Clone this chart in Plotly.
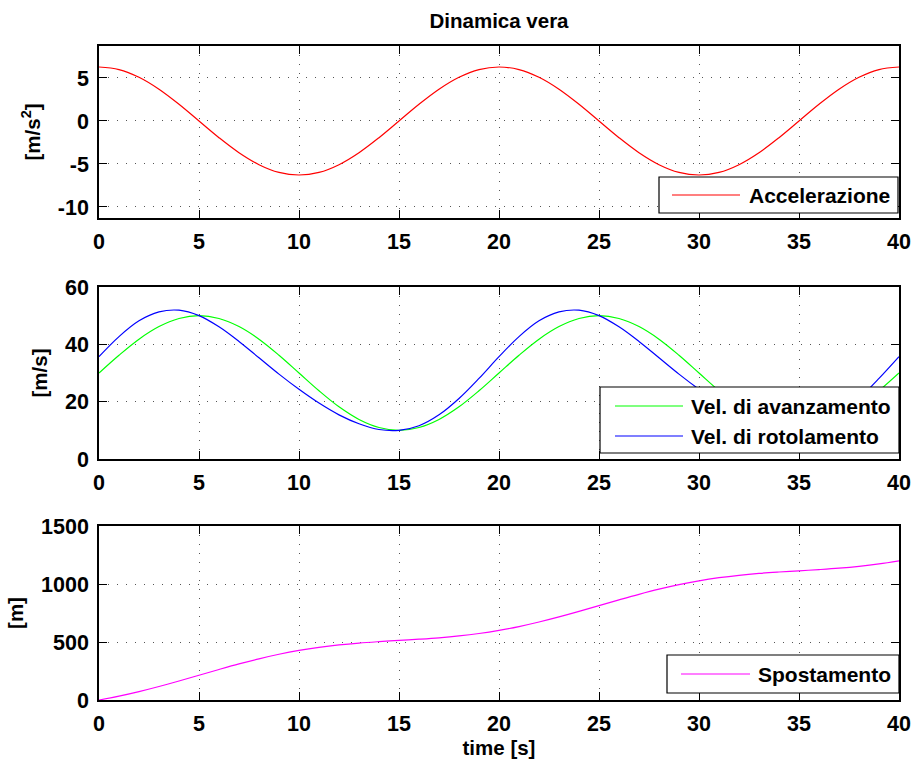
import plotly.graph_objects as go
from plotly.subplots import make_subplots

# time axis [s]
time_s = list(range(0, 41))

# acceleration [m/s^2]
accelerazione = [6.28, 5.98, 5.08, 3.69, 1.94, 0.0, -1.94, -3.69, -5.08, -5.98,
                 -6.28, -5.98, -5.08, -3.69, -1.94, 0.0, 1.94, 3.69, 5.08, 5.98,
                 6.28, 5.98, 5.08, 3.69, 1.94, 0.0, -1.94, -3.69, -5.08, -5.98,
                 -6.28, -5.98, -5.08, -3.69, -1.94, 0.0, 1.94, 3.69, 5.08, 5.98,
                 6.28]

# forward and rolling speed [m/s]
vel_avanzamento = [30.0, 36.2, 41.8, 46.2, 49.0, 50.0, 49.0, 46.2, 41.8, 36.2,
                   30.0, 23.8, 18.2, 13.8, 11.0, 10.0, 11.0, 13.8, 18.2, 23.8,
                   30.0, 36.2, 41.8, 46.2, 49.0, 50.0, 49.0, 46.2, 41.8, 36.2,
                   30.0, 23.8, 18.2, 13.8, 11.0, 10.0, 11.0, 13.8, 18.2, 23.8,
                   30.0]
vel_rotolamento = [35.7, 42.7, 48.2, 51.3, 51.9, 50.0, 46.1, 41.0, 35.3, 29.6,
                   24.3, 19.5, 15.4, 12.3, 10.3, 10.0, 11.6, 15.4, 21.1, 28.1,
                   35.7, 42.7, 48.2, 51.3, 51.9, 50.0, 46.1, 41.0, 35.3, 29.6,
                   24.3, 19.5, 15.4, 12.3, 10.3, 10.0, 11.6, 15.4, 21.1, 28.1,
                   35.7]

# displacement [m]
spostamento = [0.0, 33.1, 72.2, 116.2, 164.0, 213.7, 263.3, 311.1, 355.2, 394.2,
               427.3, 454.2, 475.2, 491.1, 503.3, 513.7, 524.0, 536.2, 552.2, 573.1,
               600.0, 633.1, 672.2, 716.2, 764.0, 813.7, 863.3, 911.1, 955.2, 994.2,
               1027.3, 1054.2, 1075.2, 1091.1, 1103.3, 1113.7, 1124.0, 1136.2, 1152.2, 1173.1,
               1200.0]

x_ticks = [0, 5, 10, 15, 20, 25, 30, 35, 40]
y1_ticks = [-10, -5, 0, 5]
y2_ticks = [0, 20, 40, 60]
y3_ticks = [0, 500, 1000, 1500]

W, H = 917, 761
ML, MR, MT, MB = 99, 18, 46, 61
PW, PH = W - ML - MR, H - MT - MB

FONT = "Liberation Sans, Arial, Helvetica, sans-serif"


def px_x(p):
    return (p - ML) / PW


def px_y(p):
    return 1 - (p - MT) / PH


fig = make_subplots(rows=3, cols=1)

fig.add_trace(go.Scatter(x=time_s, y=accelerazione, mode="lines", name="Accelerazione",
                         line=dict(color="#ff0000", width=1.2, shape="spline"),
                         showlegend=False), row=1, col=1)
fig.add_trace(go.Scatter(x=time_s, y=vel_avanzamento, mode="lines", name="Vel. di avanzamento",
                         line=dict(color="#00ff00", width=1.2, shape="spline"),
                         showlegend=False), row=2, col=1)
fig.add_trace(go.Scatter(x=time_s, y=vel_rotolamento, mode="lines", name="Vel. di rotolamento",
                         line=dict(color="#0000ff", width=1.2, shape="spline"),
                         showlegend=False), row=2, col=1)
fig.add_trace(go.Scatter(x=time_s, y=spostamento, mode="lines", name="Spostamento",
                         line=dict(color="#ff00ff", width=1.2, shape="spline"),
                         showlegend=False), row=3, col=1)

axis_common = dict(
    showline=True, linecolor="black", linewidth=1.5, mirror="ticks",
    ticks="inside", ticklen=8, tickwidth=1, tickcolor="black",
    showgrid=True, gridcolor="#555555", gridwidth=1, griddash="1px,8px",
    zeroline=False, automargin=False,
    tickfont=dict(family=FONT, size=21.5, color="black", weight="bold"),
)

domains = [
    (px_y(218), px_y(MT)),
    (px_y(459), px_y(287)),
    (px_y(H - MB), px_y(526)),
]

y_ranges = [[-11.28, 8.72], [0, 60], [0, 1500]]
y_tick_sets = [y1_ticks, y2_ticks, y3_ticks]
y_titles = ["[m/s<sup>2</sup>]", "[m/s]", "[m]"]

for i in range(3):
    sfx = "" if i == 0 else str(i + 1)
    fig.layout["xaxis" + sfx].update(
        range=[0, 40], tickvals=x_ticks, ticktext=[str(v) for v in x_ticks],
        ticklabelstandoff=3, **axis_common)
    fig.layout["yaxis" + sfx].update(
        domain=list(domains[i]), range=y_ranges[i], tickvals=y_tick_sets[i],
        ticktext=[str(v) for v in y_tick_sets[i]], ticklabelstandoff=4,
        title=dict(text=y_titles[i], standoff=12,
                   font=dict(family=FONT, size=20.5, color="black", weight="bold")),
        **axis_common)

fig.layout.xaxis3.title = dict(text="time [s]", standoff=4,
                               font=dict(family=FONT, size=20.5, color="black", weight="bold"))

# legend boxes: (box, entries[(label, color, y)], line x-span, text x)
legends = [
    ((659, 177, 898, 213), [("Accelerazione", "#ff0000", 195)], (672, 740), 747),
    ((600, 387, 899, 453), [("Vel. di avanzamento", "#00ff00", 406),
                            ("Vel. di rotolamento", "#0000ff", 436)], (615, 683), 689),
    ((667, 655, 899, 693), [("Spostamento", "#ff00ff", 674)], (681, 750), 756),
]

shapes = []
annotations = []
for (x0, y0, x1, y1), entries, (lx0, lx1), tx in legends:
    shapes.append(dict(type="rect", xref="paper", yref="paper",
                       x0=px_x(x0), x1=px_x(x1), y0=px_y(y1), y1=px_y(y0),
                       line=dict(color="black", width=1.2), fillcolor="white", layer="above"))
    for label, color, ly in entries:
        shapes.append(dict(type="line", xref="paper", yref="paper",
                           x0=px_x(lx0), x1=px_x(lx1), y0=px_y(ly), y1=px_y(ly),
                           line=dict(color=color, width=1.2), layer="above"))
        annotations.append(dict(text=label, xref="paper", yref="paper",
                                x=px_x(tx), y=px_y(ly), xanchor="left", yanchor="middle",
                                showarrow=False,
                                font=dict(family=FONT, size=21, color="black", weight="bold")))

fig.update_layout(
    width=W, height=H,
    margin=dict(l=ML, r=MR, t=MT, b=MB, autoexpand=False),
    paper_bgcolor="white", plot_bgcolor="white",
    title=dict(text="Dinamica vera", x=0.5, xref="paper", y=1 - 21 / H, yref="container",
               xanchor="center", yanchor="middle",
               font=dict(family=FONT, size=20.5, color="black", weight="bold")),
    shapes=shapes, annotations=annotations,
    showlegend=False,
)

fig.write_html("out.html")
